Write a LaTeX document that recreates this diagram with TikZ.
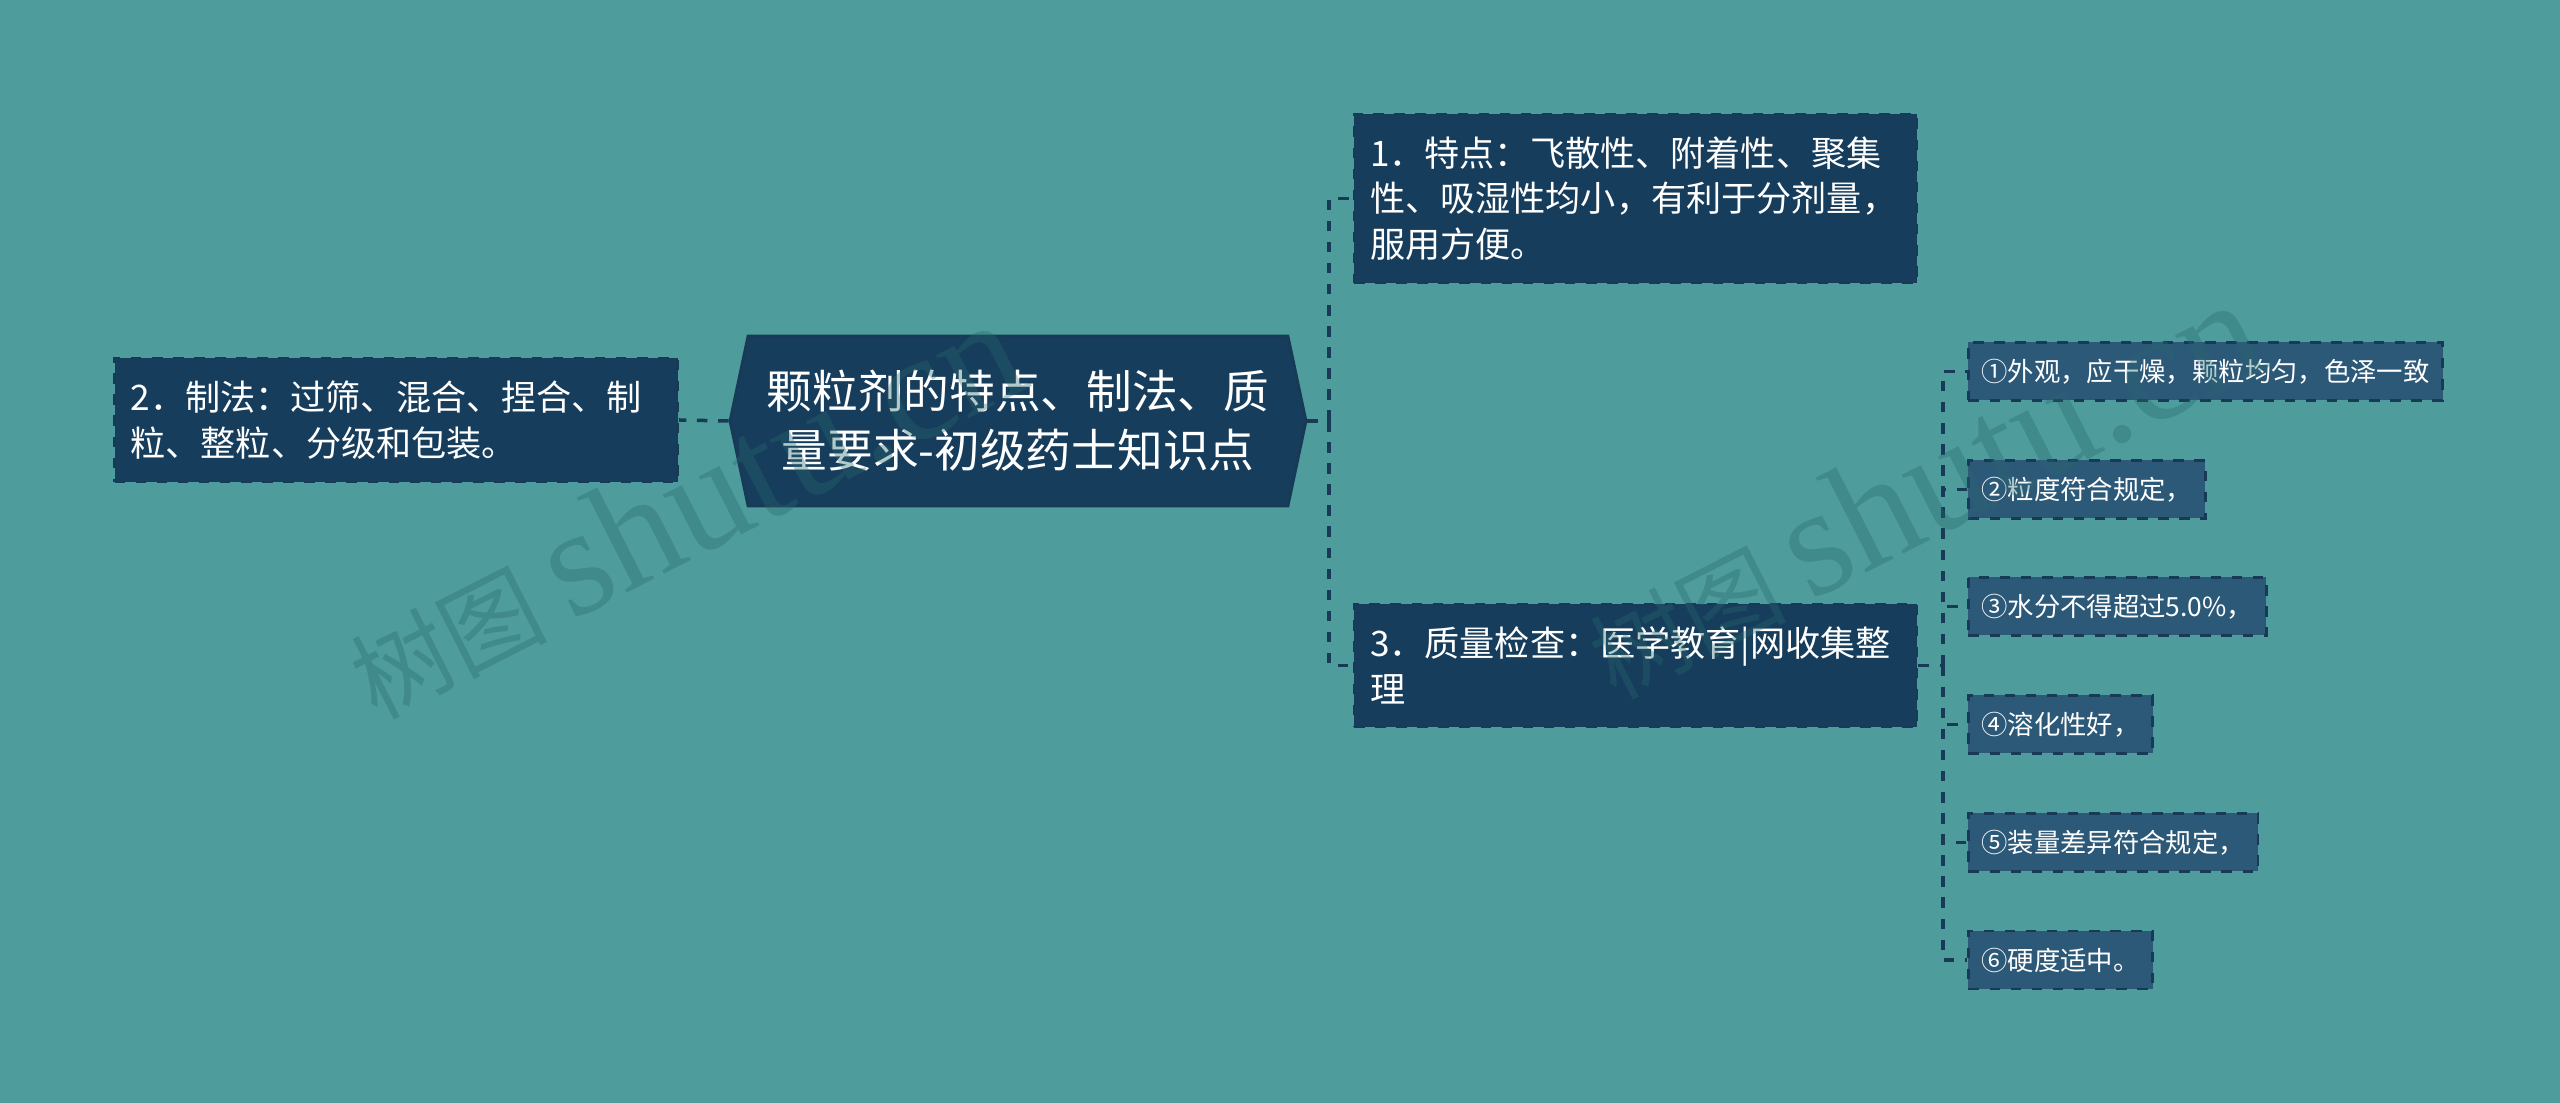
\documentclass[tikz,border=0pt]{standalone}
\usepackage{fontspec}
\newfontfamily\cjk{Noto Sans CJK SC}
\newfontfamily\wmserif{Liberation Serif}
\usetikzlibrary{shapes.symbols}
\definecolor{bgteal}{RGB}{78,157,156}
\definecolor{topicblue}{RGB}{23,61,92}
\definecolor{leafblue}{RGB}{45,89,120}
\definecolor{linenavy}{RGB}{24,58,86}
\definecolor{wmgrey}{RGB}{40,105,110}

\begin{document}
\begin{tikzpicture}[
   mainbox/.style={signal, signal to=west and east, signal pointer angle=156,
      fill=topicblue, draw=linenavy, line width=0.8pt, minimum width=5.76cm,
      minimum height=1.70cm, inner sep=0pt, align=center, text=white,
      font=\cjk\fontsize{13}{16.8}\selectfont},
   topicbox/.style={rectangle, fill=topicblue, draw=linenavy, dashed, line width=0.8pt,
      text width=5.31cm, inner xsep=0.16cm, minimum height=#1, align=left,
      text=white, font=\cjk\fontsize{10}{13}\selectfont},
   leafbox/.style={rectangle, fill=leafblue, draw=linenavy, dashed, line width=0.8pt,
      inner xsep=0.13cm, minimum height=0.58cm, anchor=west, text=white,
      font=\cjk\fontsize{7.5}{9}\selectfont},
   link/.style={draw=linenavy, line width=1pt, dashed},
   wmark/.style={text=wmgrey, text opacity=0.35, rotate=27, anchor=west, inner sep=0pt,
      font=\cjk\fontsize{28}{28}\selectfont}
]
   % background
   \fill[bgteal] (0,0) rectangle (25.6,11.03);
   \useasboundingbox (0,0) rectangle (25.6,11.03);

   % root
   \node[mainbox] (root) at (10.18,6.82) {颗粒剂的特点、制法、质\\量要求-初级药士知识点};

   % first level
   \node[topicbox=1.69cm] (tedian) at (16.355,9.045) {1．特点：飞散性、附着性、聚集\\性、吸湿性均小，有利于分剂量，\\服用方便。};
   \node[topicbox=1.24cm] (zhifa) at (3.96,6.83) {2．制法：过筛、混合、捏合、制\\粒、整粒、分级和包装。};
   \node[topicbox=1.23cm] (jiancha) at (16.355,4.375) {3．质量检查：医学教育|网收集整\\理};

   % leaves
   \node[leafbox] (waiguan) at (19.67,7.315) {①外观，应干燥，颗粒均匀，色泽一致};
   \node[leafbox] (lidu) at (19.67,6.135) {②粒度符合规定，};
   \node[leafbox] (shuifen) at (19.67,4.965) {③水分不得超过5.0\%，};
   \node[leafbox] (ronghua) at (19.67,3.785) {④溶化性好，};
   \node[leafbox] (zhuangliang) at (19.67,2.605) {⑤装量差异符合规定，};
   \node[leafbox] (yingdu) at (19.67,1.43) {⑥硬度适中。};

   % connectors
   \coordinate (jroot) at (13.29,6.82);
   \coordinate (jcheck) at (19.43,4.375);
   \draw[link] (root.west) -- (zhifa.east);
   \draw[link] (root.east) -- (jroot);
   \draw[link] (jroot) |- (tedian.west);
   \draw[link] (jroot) |- (jiancha.west);
   \draw[link] (jiancha.east) -- (jcheck);
   \foreach \leaf in {waiguan,lidu,shuifen,ronghua,zhuangliang,yingdu}
      \draw[link] (jcheck) |- (\leaf.west);

   % watermark, on top
   \node[wmark] (wmleft) at (3.53,4.26) {树图 {\wmserif\fontsize{44}{44}\selectfont shutu.cn}};
   \node[wmark] (wmright) at (15.92,4.46) {树图 {\wmserif\fontsize{44}{44}\selectfont shutu.cn}};
\end{tikzpicture}
\end{document}
